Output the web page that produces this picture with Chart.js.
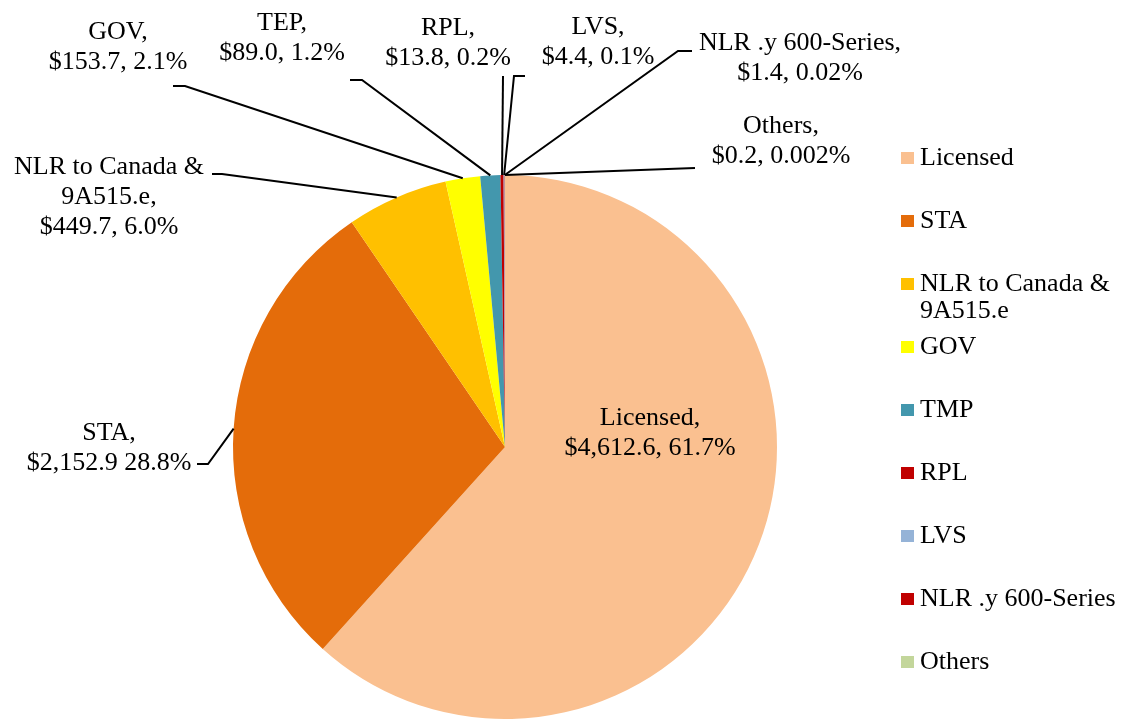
<!DOCTYPE html>
<html>
<head>
<meta charset="utf-8">
<script src="https://cdn.jsdelivr.net/npm/chart.js@4.4.1/dist/chart.umd.min.js"></script>
<style>
  html, body { margin: 0; padding: 0; background: #fff; }
  canvas { display: block; }
</style>
</head>
<body>
<canvas id="pie" width="1125" height="719"></canvas>
<script>
// slice data, clockwise from 12 o'clock
const categories = ['Licensed', 'STA', 'NLR to Canada & 9A515.e', 'GOV', 'TMP', 'RPL', 'LVS', 'NLR .y 600-Series', 'Others'];
const values = [4612.6, 2152.9, 449.7, 153.7, 89.0, 13.8, 4.4, 1.4, 0.2];
const sliceColors = ['#FAC090', '#E46C0A', '#FFC000', '#FFFF00', '#4397AD', '#C00000', '#95B3D7', '#C00000', '#C3D69B'];

// text shown next to each slice (as printed in the source, incl. "TEP")
const dataLabels = [
  ['Licensed,', '$4,612.6, 61.7%'],
  ['STA,', '$2,152.9 28.8%'],
  ['NLR to Canada &', '9A515.e,', '$449.7, 6.0%'],
  ['GOV,', '$153.7, 2.1%'],
  ['TEP,', '$89.0, 1.2%'],
  ['RPL,', '$13.8, 0.2%'],
  ['LVS,', '$4.4, 0.1%'],
  ['NLR .y 600-Series,', '$1.4, 0.02%'],
  ['Others,', '$0.2, 0.002%']
];
const legendLabels = [['Licensed'], ['STA'], ['NLR to Canada &', '9A515.e'], ['GOV'], ['TMP'], ['RPL'], ['LVS'], ['NLR .y 600-Series'], ['Others']];

// where each label sits: text centre x, first line y, leader elbow [from x, to x, y]
const labelPlace = [
  { x: 650, y: 418 },
  { x: 109, y: 433, elbow: [197, 208, 464] },
  { x: 109, y: 167, elbow: [212, 222, 174] },
  { x: 118, y: 32, elbow: [173, 185, 86] },
  { x: 282, y: 23, elbow: [350, 362, 80] },
  { x: 448, y: 28, elbow: [503, 503, 76] },
  { x: 598, y: 27, elbow: [525, 514, 76] },
  { x: 800, y: 43, elbow: [692, 678, 51] },
  { x: 781, y: 126, elbow: [695, 695, 168] }
];

const FONT = '26px "Liberation Serif", "Times New Roman", serif';
const LINE_H = 30;

const pieLabels = {
  id: 'pieLabels',
  afterDatasetsDraw(chart) {
    const ctx = chart.ctx;
    const arcs = chart.getDatasetMeta(0).data;
    ctx.save();
    ctx.font = FONT;
    ctx.fillStyle = '#000';
    ctx.strokeStyle = '#000';
    ctx.lineWidth = 2;
    ctx.textAlign = 'center';
    ctx.textBaseline = 'middle';
    arcs.forEach((arc, i) => {
      const p = labelPlace[i];
      if (p.elbow) {
        const { x, y, startAngle, endAngle, outerRadius } = arc.getProps(['x', 'y', 'startAngle', 'endAngle', 'outerRadius'], true);
        const mid = (startAngle + endAngle) / 2;
        const ax = x + Math.cos(mid) * outerRadius;
        const ay = y + Math.sin(mid) * outerRadius;
        const [x0, x1, ey] = p.elbow;
        ctx.beginPath();
        ctx.moveTo(x0, ey);
        ctx.lineTo(x1, ey);
        ctx.lineTo(ax, ay);
        ctx.stroke();
      }
      dataLabels[i].forEach((t, k) => ctx.fillText(t, p.x, p.y + k * LINE_H));
    });
    ctx.restore();
  }
};

const sideLegend = {
  id: 'sideLegend',
  afterDraw(chart) {
    const ctx = chart.ctx;
    const colors = chart.data.datasets[0].backgroundColor;
    ctx.save();
    ctx.font = FONT;
    ctx.textAlign = 'left';
    ctx.textBaseline = 'middle';
    legendLabels.forEach((lines, i) => {
      const y = 158 + i * 63;
      ctx.fillStyle = colors[i];
      ctx.fillRect(901, y - 6, 13, 12);
      ctx.fillStyle = '#000';
      lines.forEach((t, k) => ctx.fillText(t, 920, y + k * 27));
    });
    ctx.restore();
  }
};

new Chart(document.getElementById('pie'), {
  type: 'pie',
  data: {
    labels: categories,
    datasets: [{
      data: values,
      backgroundColor: sliceColors,
      borderWidth: 0
    }]
  },
  options: {
    responsive: false,
    animation: false,
    layout: { padding: { left: 233, right: 348, top: 175, bottom: 0 } },
    plugins: {
      legend: { display: false },
      tooltip: { enabled: false }
    }
  },
  plugins: [pieLabels, sideLegend]
});
</script>
</body>
</html>
